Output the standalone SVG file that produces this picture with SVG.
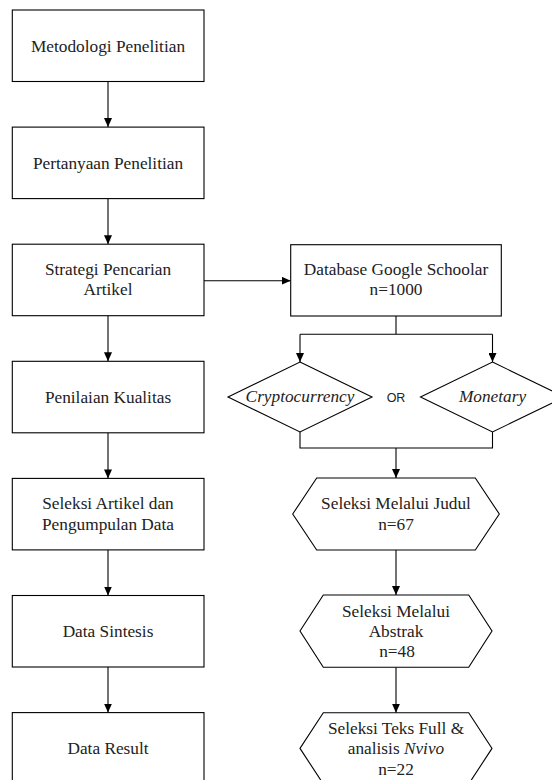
<svg xmlns="http://www.w3.org/2000/svg" width="552" height="780" viewBox="0 0 552 780">
<style>
.bx{fill:#fff;stroke:#000;stroke-width:1.1}
.t{font-family:"Liberation Serif",serif;font-size:17.3px;fill:#222;text-anchor:middle}
.i{font-style:italic}
.s{font-family:"Liberation Sans",Arial,sans-serif;font-size:12.5px;fill:#222;text-anchor:middle}
.c{fill:none;stroke:#000;stroke-width:1.1}
</style>
<defs>
<marker id="ah" markerUnits="userSpaceOnUse" markerWidth="9" markerHeight="8" viewBox="0 0 9 8" refX="9" refY="4" orient="auto">
<path d="M0,0 L9,4 L0,8 z" fill="#000"/>
</marker>
</defs>
<rect width="552" height="780" fill="#fff"/>
<g id="connectors">
<path class="c" d="M108,81.5 V127" marker-end="url(#ah)"/>
<path class="c" d="M108,198.6 V244.2" marker-end="url(#ah)"/>
<path class="c" d="M108,315.7 V361.3" marker-end="url(#ah)"/>
<path class="c" d="M108,432.8 V478.4" marker-end="url(#ah)"/>
<path class="c" d="M108,549.9 V595.5" marker-end="url(#ah)"/>
<path class="c" d="M108,667 V712.6" marker-end="url(#ah)"/>
<path class="c" d="M204,280.7 H290.7" marker-end="url(#ah)"/>
<path class="c" d="M396,316 V334.3 M300,334.3 H492.5"/>
<path class="c" d="M300,334.3 V362" marker-end="url(#ah)"/>
<path class="c" d="M492.5,334.3 V362" marker-end="url(#ah)"/>
<path class="c" d="M300,432 V448 H492.5 V432"/>
<path class="c" d="M396,448 V478" marker-end="url(#ah)"/>
<path class="c" d="M396,550 V595" marker-end="url(#ah)"/>
<path class="c" d="M396,667.3 V712.7" marker-end="url(#ah)"/>
</g>
<g id="n1"><rect class="bx" x="12.3" y="10" width="191.7" height="71.5"/><text class="t" x="108" y="51.5">Metodologi Penelitian</text></g>
<g id="n2"><rect class="bx" x="12.3" y="127.1" width="191.7" height="71.5"/><text class="t" x="108" y="168.6">Pertanyaan Penelitian</text></g>
<g id="n3"><rect class="bx" x="12.3" y="244.2" width="191.7" height="71.5"/><text class="t" x="108" y="275">Strategi Pencarian</text><text class="t" x="108" y="295">Artikel</text></g>
<g id="n4"><rect class="bx" x="12.3" y="361.3" width="191.7" height="71.5"/><text class="t" x="108" y="402.5">Penilaian Kualitas</text></g>
<g id="n5"><rect class="bx" x="12.3" y="478.4" width="191.7" height="71.5"/><text class="t" x="108" y="509">Seleksi Artikel dan</text><text class="t" x="108" y="530">Pengumpulan Data</text></g>
<g id="n6"><rect class="bx" x="12.3" y="595.5" width="191.7" height="71.5"/><text class="t" x="108" y="637">Data Sintesis</text></g>
<g id="n7"><rect class="bx" x="12.3" y="712.6" width="191.7" height="71.5"/><text class="t" x="108" y="754">Data Result</text></g>
<g id="db"><rect class="bx" x="290.7" y="244.7" width="210.6" height="71.3"/><text class="t" x="396" y="275">Database Google Schoolar</text><text class="t" x="396" y="295">n=1000</text></g>
<g id="d1"><polygon class="bx" points="300,362 372,397 300,432 228,397"/><text class="t i" x="300" y="402">Cryptocurrency</text></g>
<g id="or"><text class="s" x="396" y="401.7">OR</text></g>
<g id="d2"><polygon class="bx" points="492.5,362 564.5,397 492.5,432 420.5,397"/><text class="t i" x="492.5" y="402">Monetary</text></g>
<g id="h1"><polygon class="bx" points="292.7,514 316.7,478 475.3,478 499.3,514 475.3,550 316.7,550"/><text class="t" x="396" y="509">Seleksi Melalui Judul</text><text class="t" x="396" y="530">n=67</text></g>
<g id="h2"><polygon class="bx" points="300,631 323.3,595 468.7,595 492,631 468.7,667.3 323.3,667.3"/><text class="t" x="396" y="616.7">Seleksi Melalui</text><text class="t" x="396" y="636.7">Abstrak</text><text class="t" x="397" y="656.7">n=48</text></g>
<g id="h3"><polygon class="bx" points="300,748.4 323.3,712.7 468.7,712.7 492,748.4 468.7,784 323.3,784"/><text class="t" x="396" y="734">Seleksi Teks Full &amp;</text><text class="t" x="396" y="754">analisis <tspan class="i">Nvivo</tspan></text><text class="t" x="396" y="774.5">n=22</text></g>
</svg>
